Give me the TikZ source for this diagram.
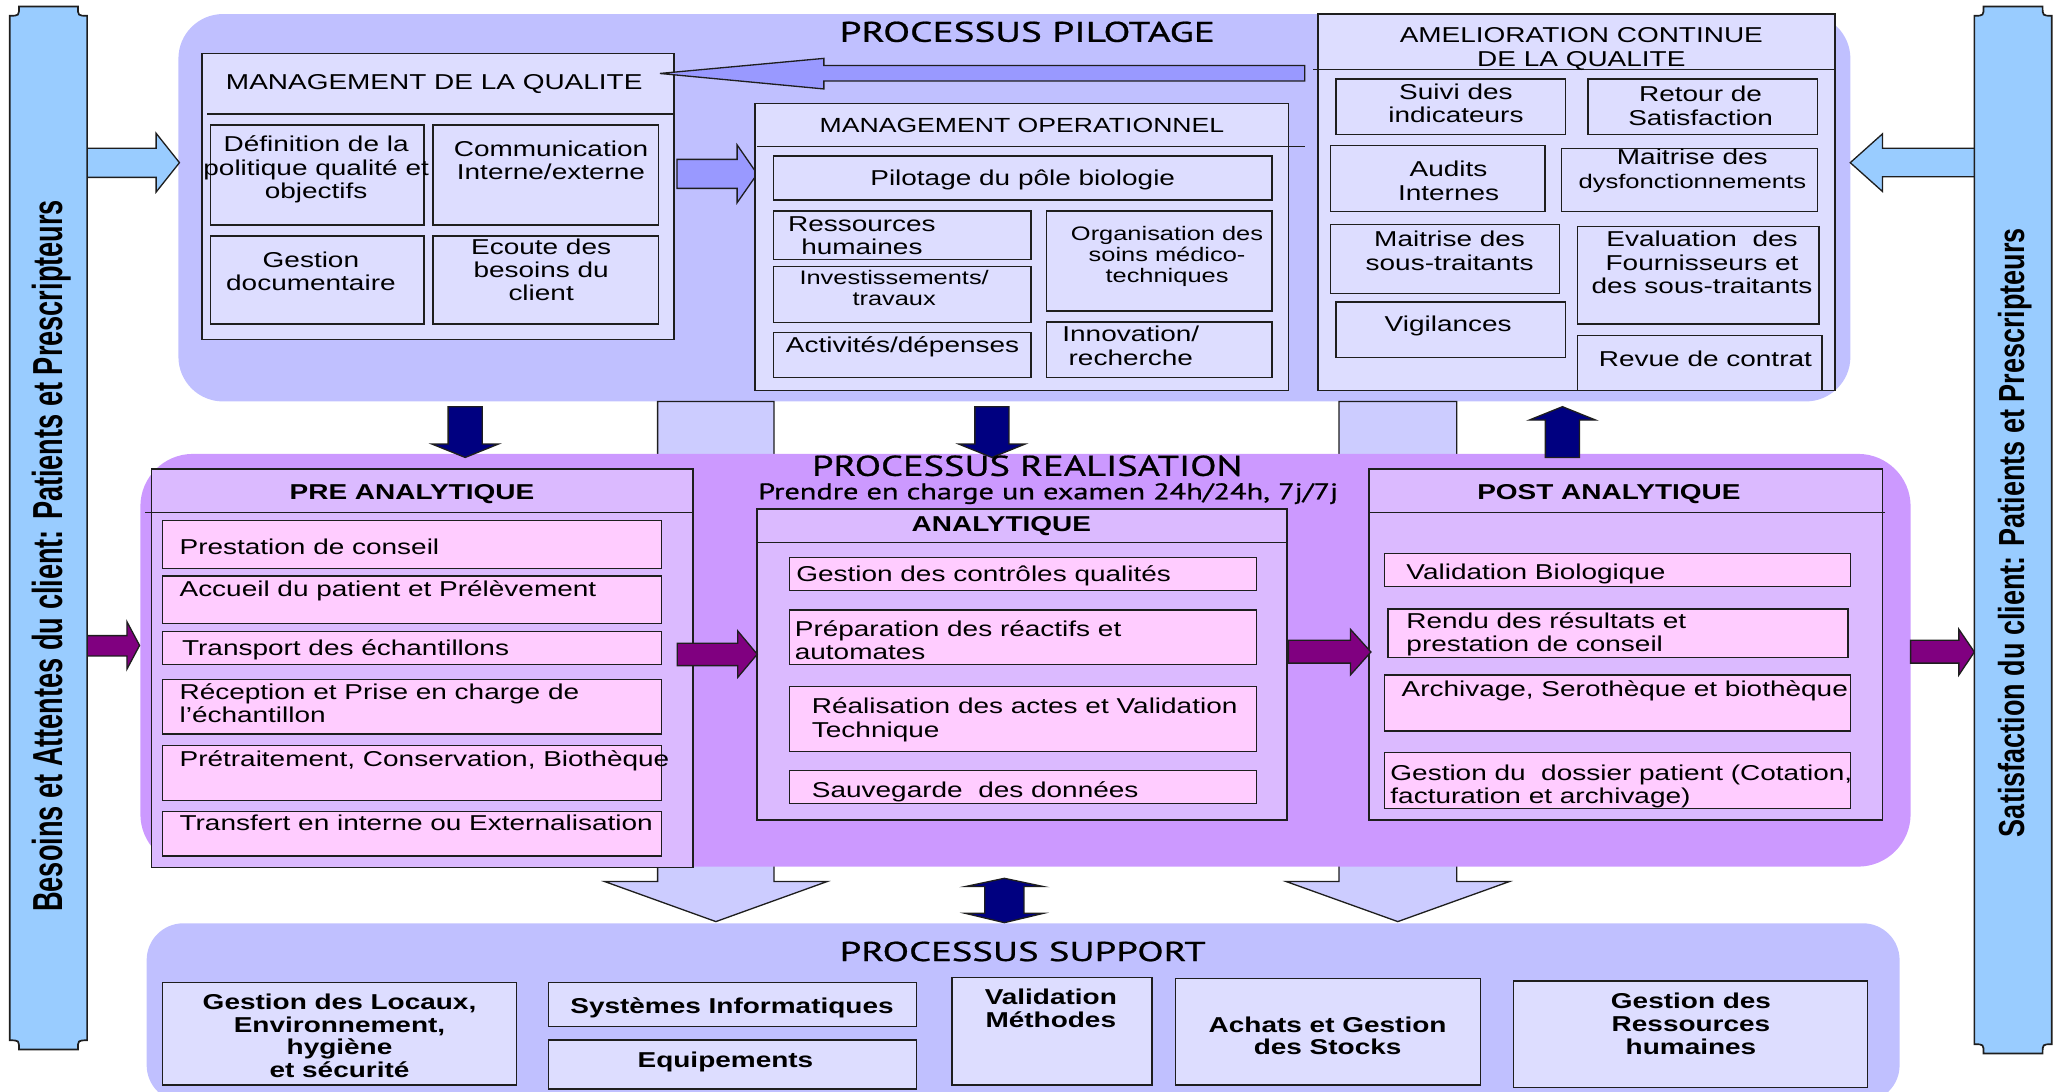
\documentclass[tikz,border=0pt]{standalone}
\usepackage{fontspec}
\setmainfont{Liberation Sans}
\newfontfamily\headfont[FakeBold=0.7]{PT Sans}
\usetikzlibrary{fit}

\definecolor{pilot}{RGB}{192,192,255}
\definecolor{pilotbox}{RGB}{221,221,255}
\definecolor{pilotarrow}{RGB}{153,153,255}
\definecolor{client}{RGB}{153,204,255}
\definecolor{realis}{RGB}{204,153,255}
\definecolor{stage}{RGB}{219,186,255}
\definecolor{task}{RGB}{255,204,255}
\definecolor{flow}{RGB}{128,0,128}
\definecolor{navy}{RGB}{0,0,128}
\definecolor{supparrow}{RGB}{204,204,255}
\definecolor{outline}{RGB}{30,30,30}

% text set wide, centred or left-aligned
\newcommand\wc[1]{\scalebox{1.3}[1]{\begin{tabular}{@{}c@{}}#1\end{tabular}}}
\newcommand\wl[1]{\scalebox{1.3}[1]{\begin{tabular}{@{}l@{}}#1\end{tabular}}}
% one line of text with a given width and capital height (in pt)
\newcommand\fitcap[3]{\resizebox{#1pt}{#2pt}{\smash{#3}\vphantom{P}}}

\begin{document}
\begin{tikzpicture}[x=1pt,y=-1pt,
  region/.style={inner sep=0pt,draw=none},
  box/.style={draw=outline,line width=1.1pt,inner sep=0pt},
  qbox/.style={box,fill=pilotbox},
  sbox/.style={box,fill=stage},
  tbox/.style={box,fill=task},
  sepline/.style={draw=outline,line width=1.1pt},
  txt/.style={inner sep=0pt,font=\fontsize{16.4}{17.8}\selectfont},
  txs/.style={inner sep=0pt,font=\fontsize{14.9}{16}\selectfont},
  txb/.style={inner sep=0pt,font=\fontsize{16.4}{17.4}\selectfont\bfseries},
  ttl/.style={inner sep=0pt,font=\headfont},
  blockarrow/.style={draw=outline,line width=1pt,line join=miter},
  bar/.style={draw=outline,line width=1.3pt,fill=client}]

\useasboundingbox (0,0) rectangle (1568,832);

% ---------- process areas ----------
\node[region,fill=pilot,rounded corners=34,fit={(136,10.7) (1410.5,306)}] (pilot) {};
\node[region,fill=pilot,rounded corners=28,fit={(111.8,703.8) (1448,840)}] (support) {};

% wide arrows from steering to support, running behind the realisation area
\draw[blockarrow,fill=supparrow] (501.3,306) -- (590,306) -- (590,672) -- (630.4,672)
  -- (545.7,702.5) -- (461,672) -- (501.3,672) -- cycle;
\draw[blockarrow,fill=supparrow] (1020.7,306) -- (1110.4,306) -- (1110.4,672) -- (1150.5,672)
  -- (1065.5,702.5) -- (980.5,672) -- (1020.7,672) -- cycle;

\node[region,fill=realis,rounded corners=40,fit={(107,346) (1456.4,660.6)}] (realis) {};

% ---------- client bars and their arrows ----------
\draw[blockarrow,fill=client] (60,113) -- (119,113) -- (119,101.6) -- (136.8,124)
  -- (119,146.4) -- (119,135.2) -- (60,135.2) -- cycle;
\draw[blockarrow,fill=client] (1512,113) -- (1435,113) -- (1435,102) -- (1410.4,124)
  -- (1435,146) -- (1435,134.7) -- (1512,134.7) -- cycle;
\draw[blockarrow,fill=flow] (60,484.5) -- (96.8,484.5) -- (96.8,474) -- (106.4,492)
  -- (96.8,510) -- (96.8,500) -- (60,500) -- cycle;
\draw[blockarrow,fill=flow] (1456.4,488) -- (1493.2,488) -- (1493.2,479.7) -- (1505,497)
  -- (1493.2,514.5) -- (1493.2,505.5) -- (1456.4,505.5) -- cycle;

\draw[bar] (14.5,5) -- (59.4,5) .. controls (59.4,12) .. (66.4,12) -- (66.4,793)
  .. controls (59.4,793) .. (59.4,800) -- (14.5,800) .. controls (14.5,793) .. (7.5,793)
  -- (7.5,12) .. controls (14.5,12) .. (14.5,5) -- cycle;
\draw[bar] (1512,5) -- (1557,5) .. controls (1557,12) .. (1564,12) -- (1564,796)
  .. controls (1557,796) .. (1557,803) -- (1512,803) .. controls (1512,796) .. (1505,796)
  -- (1505,12) .. controls (1512,12) .. (1512,5) -- cycle;

\node[rotate=90,inner sep=0pt] (besoins) at (36.5,423.7)
  {\bfseries\fitcap{542.5}{22}{Besoins et Attentes du client: Patients et Prescripteurs}};
\node[rotate=90,inner sep=0pt] (satisf) at (1534,406)
  {\bfseries\fitcap{464}{19}{Satisfaction du client: Patients et Prescripteurs}};

% ---------- links between areas ----------
\draw[blockarrow,fill=navy] (341.6,310) -- (367.6,310) -- (367.6,338.5) -- (379.9,338.5)
  -- (354.6,348.7) -- (329.3,338.5) -- (341.6,338.5) -- cycle;
\draw[blockarrow,fill=navy] (743.1,310) -- (769.1,310) -- (769.1,338.5) -- (781.4,338.5)
  -- (756.1,348.7) -- (730.8,338.5) -- (743.1,338.5) -- cycle;
\draw[blockarrow,fill=navy] (1178,348.7) -- (1204,348.7) -- (1204,320.2) -- (1216.3,320.2)
  -- (1191,310) -- (1165.7,320.2) -- (1178,320.2) -- cycle;
\draw[blockarrow,fill=navy] (750.7,675.8) -- (735.8,675.8) -- (765.6,669.5) -- (795.4,675.8)
  -- (780.5,675.8) -- (780.5,696.2) -- (795.4,696.2) -- (765.6,703.3) -- (735.8,696.2)
  -- (750.7,696.2) -- cycle;

% ---------- titles ----------
\node[ttl] (tpil) at (783,24.2) {\fitcap{286}{15.3}{PROCESSUS PILOTAGE}};
\node[ttl] (treal) at (783,355) {\fitcap{328}{15.5}{PROCESSUS REALISATION}};
\node[ttl] (tsub) at (799,374.5) {\fitcap{442}{12.2}{Prendre en charge un examen 24h/24h, 7j/7j}};
\node[ttl] (tsup) at (779.6,725.2) {\fitcap{279}{14.7}{PROCESSUS SUPPORT}};

% ---------- management de la qualite ----------
\node[qbox,fit={(154,40.7) (513.9,259)}] (mq) {};
\coordinate (mqL) at (158,86.9); \coordinate (mqR) at (513.9,86.9);
\draw[sepline] (mqL) -- (mqR);
\node[txt] (mqT) at (331,65) {\wc{MANAGEMENT DE LA QUALITE}};
\node[qbox,fit={(160.6,95.3) (323.3,171.5)}] (def) {};
\node[qbox,fit={(330,95.3) (502,171.5)}] (comm) {};
\node[qbox,fit={(160.6,180) (323.3,247)}] (gdoc) {};
\node[qbox,fit={(330,180) (502,247)}] (ecoute) {};
\node[txt] (defT) at (241,130) {\wc{Définition de la\\politique qualité et\\objectifs}};
\node[txt] (commT) at (420,124.5) {\wc{Communication\\Interne/externe}};
\node[txt] (gdocT) at (237,209) {\wc{Gestion\\documentaire}};
\node[txt] (ecouteT) at (412.5,208) {\wc{Ecoute des\\besoins du\\client}};

% arrow from continuous improvement back to quality management
\draw[blockarrow,fill=pilotarrow] (994.5,50) -- (628,50) -- (628,44.5) -- (503,56)
  -- (628,67.8) -- (628,61.7) -- (994.5,61.7) -- cycle;
\draw[blockarrow,fill=pilotarrow] (516,121.5) -- (561.9,121.5) -- (561.9,110.5) -- (577.2,132.6)
  -- (561.9,154.5) -- (561.9,143.6) -- (516,143.6) -- cycle;

% ---------- management operationnel ----------
\node[qbox,fit={(575.5,78.8) (982.1,297.8)}] (mo) {};
\coordinate (moL) at (577,111.8); \coordinate (moR) at (994.7,111.8);
\draw[sepline] (moL) -- (moR);
\node[inner sep=0pt,font=\fontsize{15.6}{17}\selectfont] (moT) at (779,97.5) {\wc{MANAGEMENT OPERATIONNEL}};
\node[qbox,fit={(589.8,118.9) (969.5,152.5)}] (pil) {};
\node[qbox,fit={(589.8,160.8) (785.8,197.7)}] (rh) {};
\node[qbox,fit={(589.8,203.3) (785.8,245.7)}] (inv) {};
\node[qbox,fit={(589.8,253.6) (785.8,287.9)}] (act) {};
\node[qbox,fit={(797.7,160.8) (969.5,237)}] (org) {};
\node[qbox,fit={(797.7,245.5) (969.5,287.9)}] (inno) {};
\node[txt] (pilT) at (779.6,138) {\wc{Pilotage du pôle biologie}};
\node[txt] (rhT) at (657,181.5) {\wc{Ressources\\humaines}};
\node[txs] (invT) at (681.6,221.5) {\wc{Investissements/\\travaux}};
\node[txt] (actT) at (688,265) {\wc{Activités/dépenses}};
\node[txs] (orgT) at (889.6,196.5) {\wc{Organisation des\\soins médico-\\techniques}};
\node[txt] (innoT) at (862,266) {\wc{Innovation/\\recherche}};

% ---------- amelioration continue ----------
\node[qbox,fit={(1004.5,10.7) (1398.6,297.8)}] (am) {};
\coordinate (amL) at (1001,52.9); \coordinate (amR) at (1398.6,52.9);
\draw[sepline] (amL) -- (amR);
\node[txt] (amT) at (1205.4,38) {\wc{AMELIORATION CONTINUE\\DE LA QUALITE}};
\node[qbox,fit={(1018.5,60.2) (1193.3,102.7)}] (suivi) {};
\node[qbox,fit={(1210.6,60.2) (1385.4,102.7)}] (retour) {};
\node[qbox,fit={(1014.1,111) (1177.8,161.4)}] (audits) {};
\node[qbox,fit={(1190.4,113) (1385.4,161.4)}] (dysf) {};
\node[qbox,fit={(1014.1,171) (1188.9,223.6)}] (sst) {};
\node[qbox,fit={(1202.5,172.8) (1386.5,247)}] (eval) {};
\node[qbox,fit={(1018.5,230.2) (1193.3,272.4)}] (vigil) {};
\node[qbox,fit={(1202.5,255.6) (1389,297.8)}] (revue) {};
\node[txt] (suiviT) at (1109.8,81) {\wc{Suivi des\\indicateurs}};
\node[txt] (retourT) at (1296.3,83) {\wc{Retour de\\Satisfaction}};
\node[txt] (auditsT) at (1104.2,140) {\wc{Audits\\Internes}};
\node[txt] (dysfT) at (1290,131) {\wc{Maitrise des\\{\fontsize{15}{16}\selectfont dysfonctionnements}}};
\node[txt] (sstT) at (1105,193.5) {\wc{Maitrise des\\sous-traitants}};
\node[txt] (evalT) at (1297.4,202.5) {\wc{Evaluation~ des\\Fournisseurs et\\des sous-traitants}};
\node[txt] (vigilT) at (1103.9,249) {\wc{Vigilances}};
\node[txt] (revueT) at (1300,275.5) {\wc{Revue de contrat}};

% ---------- pre analytique ----------
\node[sbox,fit={(115.3,357.5) (528.4,661.4)}] (pre) {};
\coordinate (preL) at (110.8,390.5); \coordinate (preR) at (528.4,390.5);
\draw[sepline] (preL) -- (preR);
\node[txb] (preT) at (314,377) {\wc{PRE ANALYTIQUE}};
\node[tbox,fit={(123.8,396.9) (504.4,433.2)}] (p1) {};
\node[tbox,fit={(123.8,439) (504.4,475.2)}] (p2) {};
\node[tbox,fit={(123.8,481.3) (504.4,506.4)}] (p3) {};
\node[tbox,fit={(123.8,517.8) (504.4,559.5)}] (p4) {};
\node[tbox,fit={(123.8,568.4) (504.4,610.3)}] (p5) {};
\node[tbox,fit={(123.8,618.7) (504.4,652.5)}] (p6) {};
\node[txt,anchor=west] (p1T) at (136.7,419) {\wl{Prestation de conseil}};
\node[txt,anchor=west] (p2T) at (136.7,451.5) {\wl{Accueil du patient et Prélèvement}};
\node[txt,anchor=west] (p3T) at (138.6,496) {\wl{Transport des échantillons}};
\node[txt,anchor=west] (p4T) at (136.7,538.5) {\wl{Réception et Prise en charge de\\l’échantillon}};
\node[txt,anchor=west] (p5T) at (136.7,580.5) {\wl{Prétraitement, Conservation, Biothèque}};
\node[txt,anchor=west] (p6T) at (136.7,629.5) {\wl{Transfert en interne ou Externalisation}};

% ---------- analytique ----------
\node[sbox,fit={(577.2,388) (981.1,625)}] (ana) {};
\coordinate (anaL) at (577.2,413.4); \coordinate (anaR) at (982,413.4);
\draw[sepline] (anaL) -- (anaR);
\node[txb] (anaT) at (763.3,402) {\wc{ANALYTIQUE}};
\node[tbox,fit={(601.7,424.8) (957.9,450.3)}] (a1) {};
\node[tbox,fit={(601.7,465) (957.9,506.4)}] (a2) {};
\node[tbox,fit={(601.7,523.4) (957.9,573)}] (a3) {};
\node[tbox,fit={(601.7,587.5) (957.9,612.4)}] (a4) {};
\node[txt,anchor=west] (a1T) at (606.8,440) {\wl{Gestion des contrôles qualités}};
\node[txt,anchor=west] (a2T) at (605.7,490.5) {\wl{Préparation des réactifs et\\automates}};
\node[txt,anchor=west] (a3T) at (618.7,549.5) {\wl{Réalisation des actes et Validation\\Technique}};
\node[txt,anchor=west] (a4T) at (618.7,604.5) {\wl{Sauvegarde~ des données}};

% ---------- post analytique ----------
\node[sbox,fit={(1043.5,357.5) (1435.1,625)}] (post) {};
\coordinate (postL) at (1043.5,390.5); \coordinate (postR) at (1437,390.5);
\draw[sepline] (postL) -- (postR);
\node[txb] (postT) at (1226.4,377) {\wc{POST ANALYTIQUE}};
\node[tbox,fit={(1055.3,421.8) (1410.4,447.2)}] (q1) {};
\node[tbox,fit={(1057.9,464.2) (1408.6,501)}] (q2) {};
\node[tbox,fit={(1055.3,514.5) (1410.4,557.2)}] (q3) {};
\node[tbox,fit={(1055.3,573.7) (1410.4,616.2)}] (q4) {};
\node[txt,anchor=west] (q1T) at (1071.9,438.5) {\wl{Validation Biologique}};
\node[txt,anchor=west] (q2T) at (1071.9,484.5) {\wl{Rendu des résultats et\\prestation de conseil}};
\node[txt,anchor=west] (q3T) at (1068.2,527) {\wl{Archivage, Serothèque et biothèque}};
\node[txt,anchor=west] (q4T) at (1059.7,600) {\wl{Gestion du~ dossier patient (Cotation,\\facturation et archivage)}};

% flow between the three stages
\draw[blockarrow,fill=flow] (516.2,490.4) -- (562.4,490.4) -- (562.4,481) -- (577.2,498.7)
  -- (562.4,516.3) -- (562.4,507.4) -- (516.2,507.4) -- cycle;
\draw[blockarrow,fill=flow] (982.1,488) -- (1029.4,488) -- (1029.4,479.7) -- (1045,497)
  -- (1029.4,514.5) -- (1029.4,505.5) -- (982.1,505.5) -- cycle;

% ---------- support ----------
\node[qbox,fit={(124,749) (393.7,827)}] (s1) {};
\node[qbox,fit={(418,749) (698.5,782.6)}] (s2) {};
\node[qbox,fit={(418,792.7) (698.5,830)}] (s3) {};
\node[qbox,fit={(725.7,745.2) (878,827)}] (s4) {};
\node[qbox,fit={(895.9,745.7) (1128.6,827)}] (s5) {};
\node[qbox,fit={(1153.8,747.8) (1423.6,828.8)}] (s6) {};
\node[txb] (s1T) at (258.8,792) {\wc{Gestion des Locaux,\\Environnement,\\hygiène\\et sécurité}};
\node[txb] (s2T) at (558,769) {\wc{Systèmes Informatiques}};
\node[txb] (s3T) at (553,810.5) {\wc{Equipements}};
\node[txb] (s4T) at (801,771) {\wc{Validation\\Méthodes}};
\node[txb] (s5T) at (1012,792) {\wc{Achats et Gestion\\des Stocks}};
\node[txb] (s6T) at (1289,783) {\wc{Gestion des\\Ressources\\humaines}};

\end{tikzpicture}
\end{document}
